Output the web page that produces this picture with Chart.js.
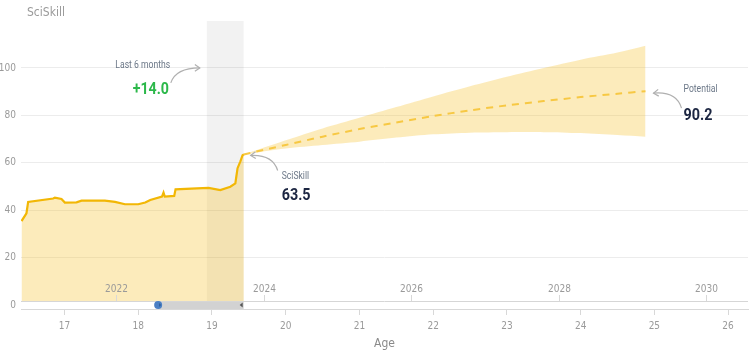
<!DOCTYPE html>
<html>
<head>
<meta charset="utf-8">
<script src="https://cdn.jsdelivr.net/npm/chart.js@4"></script>
<style>
  html, body { margin: 0; padding: 0; background: #fff; }
  #wrap { width: 750px; height: 354px; position: relative; }
</style>
</head>
<body>
<div id="wrap"><canvas id="skillChart"></canvas></div>
<script>
// Historical SciSkill by age
const histAge = [16.417, 16.484, 16.507, 16.847, 16.870, 16.959, 17.005, 17.163, 17.231, 17.548,
  17.684, 17.820, 18.000, 18.095, 18.163, 18.322, 18.343, 18.360, 18.488, 18.506,
  18.796, 18.954, 19.113, 19.249, 19.317, 19.330, 19.347, 19.384, 19.415, 19.432];
const histSkill = [35.4, 38.7, 43.5, 44.9, 45.3, 44.7, 43.2, 43.3, 44.0, 44.0,
  43.5, 42.5, 42.5, 43.2, 44.3, 45.7, 47.4, 45.7, 46.0, 48.8,
  49.2, 49.4, 48.5, 49.9, 51.3, 54.1, 57.7, 60.5, 63.2, 63.5];

// Projection (potential) with upper / lower bounds
const projAge = [19.43, 20.0, 20.5, 21.0, 21.5, 22.0, 22.5, 23.0, 23.5, 24.0, 24.5, 24.88];
const projMid = [63.5, 67.5, 71.0, 74.2, 77.0, 79.7, 82.1, 84.2, 86.0, 87.7, 89.1, 90.2];
const projHigh = [63.5, 69.5, 74.5, 79.0, 83.5, 88.0, 92.3, 96.3, 100.0, 103.5, 106.5, 109.4];
const projLow = [63.5, 66.0, 67.5, 68.9, 70.6, 72.0, 72.7, 72.9, 72.9, 72.5, 71.7, 71.0];

// Axis ticks
const ageTicks = [17, 18, 19, 20, 21, 22, 23, 24, 25, 26];
const skillTicks = [0, 20, 40, 60, 80, 100];
const yearTicks = [2022, 2024, 2026, 2028, 2030];
const yearAtAgeZero = 2004.3; // calendar year = age + this

// Highlights
const lastSixStart = 18.93;
const currentAge = 19.43;
const currentSkill = 63.5;
const potentialSkill = 90.2;
const skillGain = '+14.0';
const scrollStart = 18.27;

const FONT = "'DejaVu Sans Condensed', Roboto, sans-serif";
const ANNO = "Roboto, sans-serif";
const LINE = '#f2b705';
const FILL = 'rgba(245, 190, 30, 0.3)';

const toPts = (xs, ys) => xs.map((x, i) => ({ x, y: ys[i] }));

// narrow text (the original uses a condensed face)
function narrowText(ctx, text, x, y, sx) {
    ctx.save();
    ctx.translate(x, y);
    ctx.scale(sx, 1);
    ctx.fillText(text, 0, 0);
    ctx.restore();
}

function arrow(ctx, x0, y0, cx, cy, x1, y1) {
    ctx.beginPath();
    ctx.moveTo(x0, y0);
    ctx.quadraticCurveTo(cx, cy, x1, y1);
    ctx.stroke();
    const ang = Math.atan2(y1 - cy, x1 - cx);
    const len = 6;
    ctx.beginPath();
    ctx.moveTo(x1 - len * Math.cos(ang - 0.6), y1 - len * Math.sin(ang - 0.6));
    ctx.lineTo(x1, y1);
    ctx.lineTo(x1 - len * Math.cos(ang + 0.6), y1 - len * Math.sin(ang + 0.6));
    ctx.stroke();
}

const decorPlugin = {
    id: 'decor',
    beforeDatasetsDraw(chart) {
        const { ctx, chartArea, scales } = chart;
        const x = scales.x;
        // last 6 months band
        ctx.save();
        ctx.fillStyle = 'rgba(0, 0, 0, 0.05)';
        const b0 = x.getPixelForValue(lastSixStart);
        const b1 = x.getPixelForValue(currentAge);
        ctx.fillRect(b0, chartArea.top, b1 - b0, chartArea.bottom - chartArea.top);
        ctx.restore();
    },
    afterDatasetsDraw(chart) {
        const { ctx, chartArea, scales } = chart;
        const x = scales.x, y = scales.y;
        ctx.save();

        // year labels inside plot
        ctx.font = '10px ' + FONT;
        ctx.fillStyle = '#9a9a9a';
        ctx.strokeStyle = '#d8d8d8';
        ctx.lineWidth = 1;
        ctx.textAlign = 'center';
        ctx.textBaseline = 'middle';
        yearTicks.forEach(yr => {
            const px = Math.round(x.getPixelForValue(yr - yearAtAgeZero)) + 0.5;
            ctx.fillText(String(yr), px, chartArea.bottom - 20);
            ctx.beginPath();
            ctx.moveTo(px, chartArea.bottom - 14);
            ctx.lineTo(px, chartArea.bottom - 8);
            ctx.stroke();
        });

        // scroll / navigator strip
        const sTop = chartArea.bottom - 8, sH = 8;
        ctx.fillStyle = '#ffffff';
        ctx.fillRect(chartArea.left, sTop, chartArea.right - chartArea.left, sH);
        ctx.strokeStyle = '#d6d6d6';
        ctx.beginPath();
        ctx.moveTo(chartArea.left, sTop + 0.5);
        ctx.lineTo(chartArea.right, sTop + 0.5);
        ctx.stroke();
        const s0 = x.getPixelForValue(scrollStart), s1 = x.getPixelForValue(currentAge);
        ctx.fillStyle = '#d2d2d2';
        ctx.fillRect(s0, sTop + 1, s1 - s0, sH - 1);
        ctx.fillStyle = '#4a7fc4';
        ctx.beginPath();
        ctx.arc(s0, sTop + 4, 4, 0, Math.PI * 2);
        ctx.fill();
        ctx.fillStyle = '#2d5d9a';
        ctx.beginPath();
        ctx.moveTo(s0 + 1, sTop + 2);
        ctx.lineTo(s0 + 3, sTop + 4);
        ctx.lineTo(s0 + 1, sTop + 6);
        ctx.fill();
        ctx.fillStyle = '#555';
        ctx.beginPath();
        ctx.moveTo(s1 - 1, sTop + 1.5);
        ctx.lineTo(s1 - 4, sTop + 4);
        ctx.lineTo(s1 - 1, sTop + 6.5);
        ctx.fill();

        // axis title top-left
        ctx.textAlign = 'left';
        ctx.font = '12px ' + FONT;
        ctx.fillStyle = '#9a9a9a';
        ctx.fillText('SciSkill', 27, 13);

        // annotations
        ctx.strokeStyle = '#b0b0b0';
        ctx.lineWidth = 1.2;
        const LBL = '10.5px ' + ANNO, NUM = 'bold 16.5px ' + ANNO;

        // last 6 months
        const bandX = x.getPixelForValue(lastSixStart);
        const topY = y.getPixelForValue(100);
        ctx.textAlign = 'center';
        ctx.font = LBL;
        ctx.fillStyle = '#6b7787';
        narrowText(ctx, 'Last 6 months', bandX - 64, topY - 3, 0.82);
        ctx.font = NUM;
        ctx.fillStyle = '#2cb84a';
        narrowText(ctx, skillGain, bandX - 56, topY + 22, 0.86);
        arrow(ctx, bandX - 36, topY + 15, bandX - 31, topY, bandX - 7, topY);

        // current skill
        const cx = x.getPixelForValue(currentAge), cy = y.getPixelForValue(currentSkill);
        ctx.textAlign = 'left';
        ctx.font = LBL;
        ctx.fillStyle = '#6b7787';
        narrowText(ctx, 'SciSkill', cx + 38, cy + 22, 0.82);
        ctx.font = NUM;
        ctx.fillStyle = '#1b2541';
        narrowText(ctx, currentSkill.toFixed(1), cx + 38, cy + 41, 0.87);
        arrow(ctx, cx + 34, cy + 16, cx + 29, cy, cx + 7, cy + 1);

        // potential
        const px = x.getPixelForValue(projAge[projAge.length - 1]);
        const py = y.getPixelForValue(potentialSkill);
        ctx.font = LBL;
        ctx.fillStyle = '#6b7787';
        narrowText(ctx, 'Potential', px + 38, py - 2, 0.82);
        ctx.font = NUM;
        ctx.fillStyle = '#1b2541';
        narrowText(ctx, potentialSkill.toFixed(1), px + 38, py + 25, 0.87);
        arrow(ctx, px + 36, py + 17, px + 31, py, px + 8, py + 2);

        ctx.restore();
    }
};

const chart = new Chart(document.getElementById('skillChart').getContext('2d'), {
    type: 'line',
    data: {
        datasets: [
            {
                label: 'Upper',
                data: toPts(projAge, projHigh),
                borderWidth: 0,
                pointRadius: 0,
                backgroundColor: FILL,
                fill: '+1',
                tension: 0.3,
                order: 3
            },
            {
                label: 'Lower',
                data: toPts(projAge, projLow),
                borderWidth: 0,
                pointRadius: 0,
                fill: false,
                tension: 0.3,
                order: 3
            },
            {
                label: 'Potential',
                data: toPts(projAge, projMid),
                borderColor: '#f7c843',
                borderWidth: 2,
                borderDash: [7, 6],
                pointRadius: 0,
                fill: false,
                tension: 0.3,
                order: 2
            },
            {
                label: 'SciSkill',
                data: toPts(histAge, histSkill),
                borderColor: LINE,
                borderWidth: 2.2,
                backgroundColor: FILL,
                pointRadius: 0,
                fill: 'origin',
                tension: 0,
                order: 1
            }
        ]
    },
    options: {
        responsive: true,
        maintainAspectRatio: false,
        animation: false,
        layout: { padding: { top: 21, right: 2, left: 0, bottom: 0 } },
        plugins: {
            legend: { display: false },
            tooltip: { enabled: false }
        },
        scales: {
            x: {
                type: 'linear',
                min: 16.41,
                max: 26.27,
                afterBuildTicks: axis => { axis.ticks = ageTicks.map(v => ({ value: v })); },
                afterFit: axis => { axis.height = 45; },
                border: { display: true, color: '#d8d8d8' },
                grid: { drawOnChartArea: false, drawTicks: true, tickLength: 6, color: '#d8d8d8' },
                ticks: { color: '#9a9a9a', font: { family: FONT, size: 10 }, padding: 5, maxRotation: 0 },
                title: { display: true, text: 'Age', color: '#8a8a8a', font: { family: FONT, size: 12 }, padding: { top: 0, bottom: 3 } }
            },
            y: {
                min: -1.7,
                max: 119.8,
                afterBuildTicks: axis => { axis.ticks = skillTicks.map(v => ({ value: v })); },
                afterFit: axis => { axis.width = 21; },
                border: { display: false },
                grid: { color: '#ececec', drawTicks: false },
                ticks: { color: '#9a9a9a', font: { family: FONT, size: 10 }, padding: 5 }
            }
        }
    },
    plugins: [decorPlugin]
});
</script>
</body>
</html>
